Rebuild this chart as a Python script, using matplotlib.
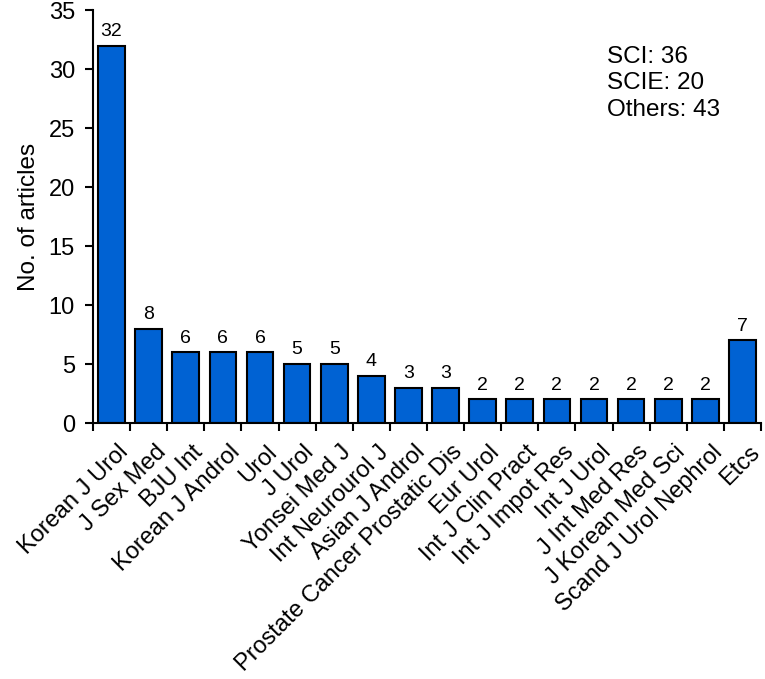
import matplotlib
matplotlib.use("Agg")
import matplotlib.pyplot as plt
import matplotlib.transforms as mtransforms
import numpy as np
from matplotlib.ticker import FixedLocator

journals = ["Korean J Urol", "J Sex Med", "BJU Int", "Korean J Androl", "Urol", "J Urol",
            "Yonsei Med J", "Int Neurourol J", "Asian J Androl", "Prostate Cancer Prostatic Dis",
            "Eur Urol", "Int J Clin Pract", "Int J Impot Res", "Int J Urol", "J Int Med Res",
            "J Korean Med Sci", "Scand J Urol Nephrol", "Etcs"]
counts = [32, 8, 6, 6, 6, 5, 5, 4, 3, 3, 2, 2, 2, 2, 2, 2, 2, 7]
summary = ["SCI: 36", "SCIE: 20", "Others: 43"]

plt.rcParams['font.family'] = ['Liberation Sans', 'DejaVu Sans']

fig = plt.figure(figsize=(7.65, 6.79), dpi=100)
ax = fig.add_axes([0.1216, 0.377, 0.8732, 0.608])

x = np.arange(len(journals))
ax.bar(x, counts, width=0.72, color='#0062d3', edgecolor='black', linewidth=1.5)
for xi, v in zip(x, counts):
    ax.annotate(str(v), (xi, v), xytext=(0, 4), textcoords='offset points',
                ha='center', va='bottom', fontsize=14)

ax.set_xlim(-0.5, len(journals) - 0.5)
ax.set_ylim(0, 35)
ax.set_yticks(range(0, 36, 5))
ax.tick_params(axis='y', labelsize=17, direction='out', length=6, width=1.5, pad=7)
ax.set_xticks(x)
ax.set_xticklabels(journals, rotation=45, ha='right', va='top', rotation_mode='anchor',
                   fontsize=17)
ax.tick_params(axis='x', which='major', length=0, pad=13)
offset = mtransforms.ScaledTranslation(6 / 100, 0, fig.dpi_scale_trans)
for lab in ax.get_xticklabels():
    lab.set_transform(lab.get_transform() + offset)
ax.xaxis.set_minor_locator(FixedLocator(np.arange(-0.5, len(journals), 1.0)))
ax.tick_params(axis='x', which='minor', length=6, width=1.5, direction='out')
ax.set_ylabel("No. of articles", fontsize=17.5)
ax.yaxis.set_label_coords(-0.08, 0.5)
for s in ['top', 'right']:
    ax.spines[s].set_visible(False)
for s in ['left', 'bottom']:
    ax.spines[s].set_linewidth(1.5)

ax.text(0.770, 0.913, "\n".join(summary), transform=ax.transAxes, ha='left', va='top',
        fontsize=17.5, linespacing=1.25)

fig.savefig("out.png", dpi=100)
